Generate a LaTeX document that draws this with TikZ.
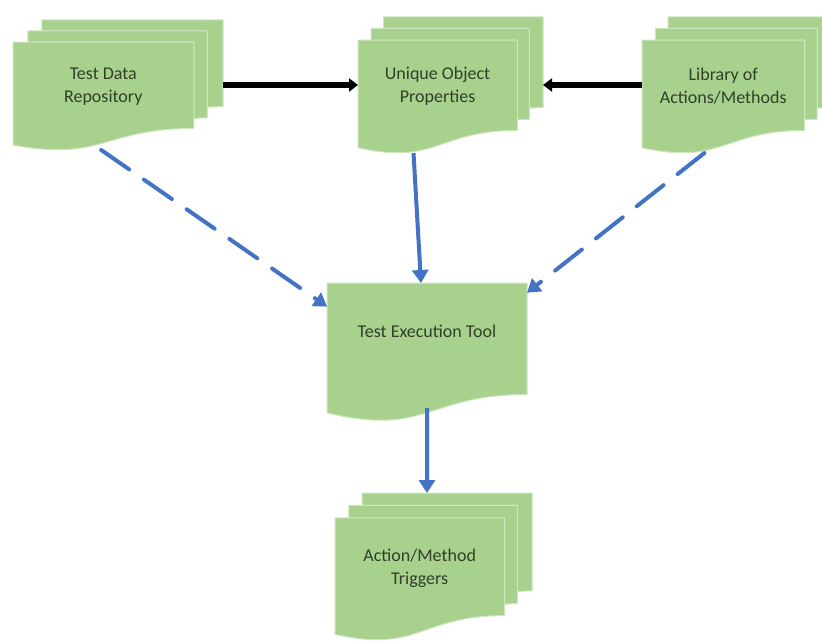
\documentclass[tikz,border=0pt]{standalone}
\usepackage{fontspec}
\setmainfont{Carlito}
\usetikzlibrary{arrows.meta,calc}
\definecolor{docgreen}{RGB}{169,209,142}
\definecolor{docedge}{RGB}{205,230,190}
\definecolor{doctextc}{RGB}{48,64,40}
\definecolor{flowblue}{RGB}{68,114,196}
\tikzset{
  docpage/.style={fill=docgreen,draw=docedge,line width=1pt,line join=round},
  docbox/.style={inner sep=0pt,outer sep=0pt,rectangle},
  doctext/.style={align=center,text=doctextc,font=\fontsize{18}{23}\selectfont},
  link/.style={line width=5pt,-{Triangle[length=9pt,width=13pt]}},
  flow/.style={line width=4pt,draw=flowblue,-{Triangle[length=13pt,width=16pt]}},
  flowdash/.style={flow,line cap=round,dash pattern=on 34pt off 18pt}
}
\newcommand\multidoc[6]{%
  \begin{scope}[shift={(#2,#3)},x=#4pt,y=-#5pt]
    \draw[docpage] (0.138,0.084) -- (0.138,0) -- (1,0) -- (1,0.666) .. controls (0.963,0.666) and (0.926,0.670) .. (0.926,0.670) -- (0.926,0.084) -- cycle;
    \draw[docpage] (0.071,0.170) -- (0.071,0.084) -- (0.926,0.084) -- (0.926,0.752) .. controls (0.893,0.752) and (0.861,0.757) .. (0.861,0.757) -- (0.861,0.170) -- cycle;
    \draw[docpage] (0,0.170) -- (0.861,0.170) -- (0.861,0.834) .. controls (0.430,0.834) and (0.430,1.090) .. (0,0.962) -- cycle;
    \node[docbox,minimum width=#4pt,minimum height=#5pt] (#1) at (0.5,0.5) {};
    \node[doctext] (#1-txt) at (0.43,0.51) {#6};
  \end{scope}}
\newcommand\singledoc[6]{%
  \begin{scope}[shift={(#2,#3)},x=#4pt,y=-#5pt]
    \draw[docpage] (0,0) -- (1,0) -- (1,0.802) .. controls (0.5,0.802) and (0.5,1.1075) .. (0,0.934) -- cycle;
    \node[docbox,minimum width=#4pt,minimum height=#5pt] (#1) at (0.5,0.5) {};
    \node[doctext] (#1-txt) at (0.5,0.35) {#6};
  \end{scope}}
\begin{document}
\begin{tikzpicture}[x=1pt,y=-1pt]
    \useasboundingbox (0,0) rectangle (822,642);
    \multidoc{tdr}{13}{20}{210}{130}{Test Data\\Repository}
    \multidoc{uop}{358}{17}{185}{136}{Unique Object\\Properties}
    \multidoc{lib}{642}{17}{189}{136}{Library of\\Actions/Methods}
    \singledoc{tet}{327}{283}{200}{139}{Test Execution Tool}
    \multidoc{trg}{335}{493}{197}{147}{Action/Method\\Triggers}
    \draw[link] (tdr.east) -- (uop.west);
    \draw[link] (lib.west) -- (uop.east);
    \draw[flow] ($(uop.south west)!0.3!(uop.south east)$) -- ($(tet.north west)!0.47!(tet.north east)$);
    \draw[flowdash] ($(tdr.south west)!0.42!(tdr.south east)$) -- ($(tet.north west)!0.17!(tet.south west)$);
    \draw[flowdash] ($(lib.south west)!0.33!(lib.south east)$) -- ($(tet.north east)!0.07!(tet.south east)$);
    \draw[flow] ($(tet.north)!0.9!(tet.south)$) -- ($(trg.north west)!0.467!(trg.north east)$);
\end{tikzpicture}
\end{document}
